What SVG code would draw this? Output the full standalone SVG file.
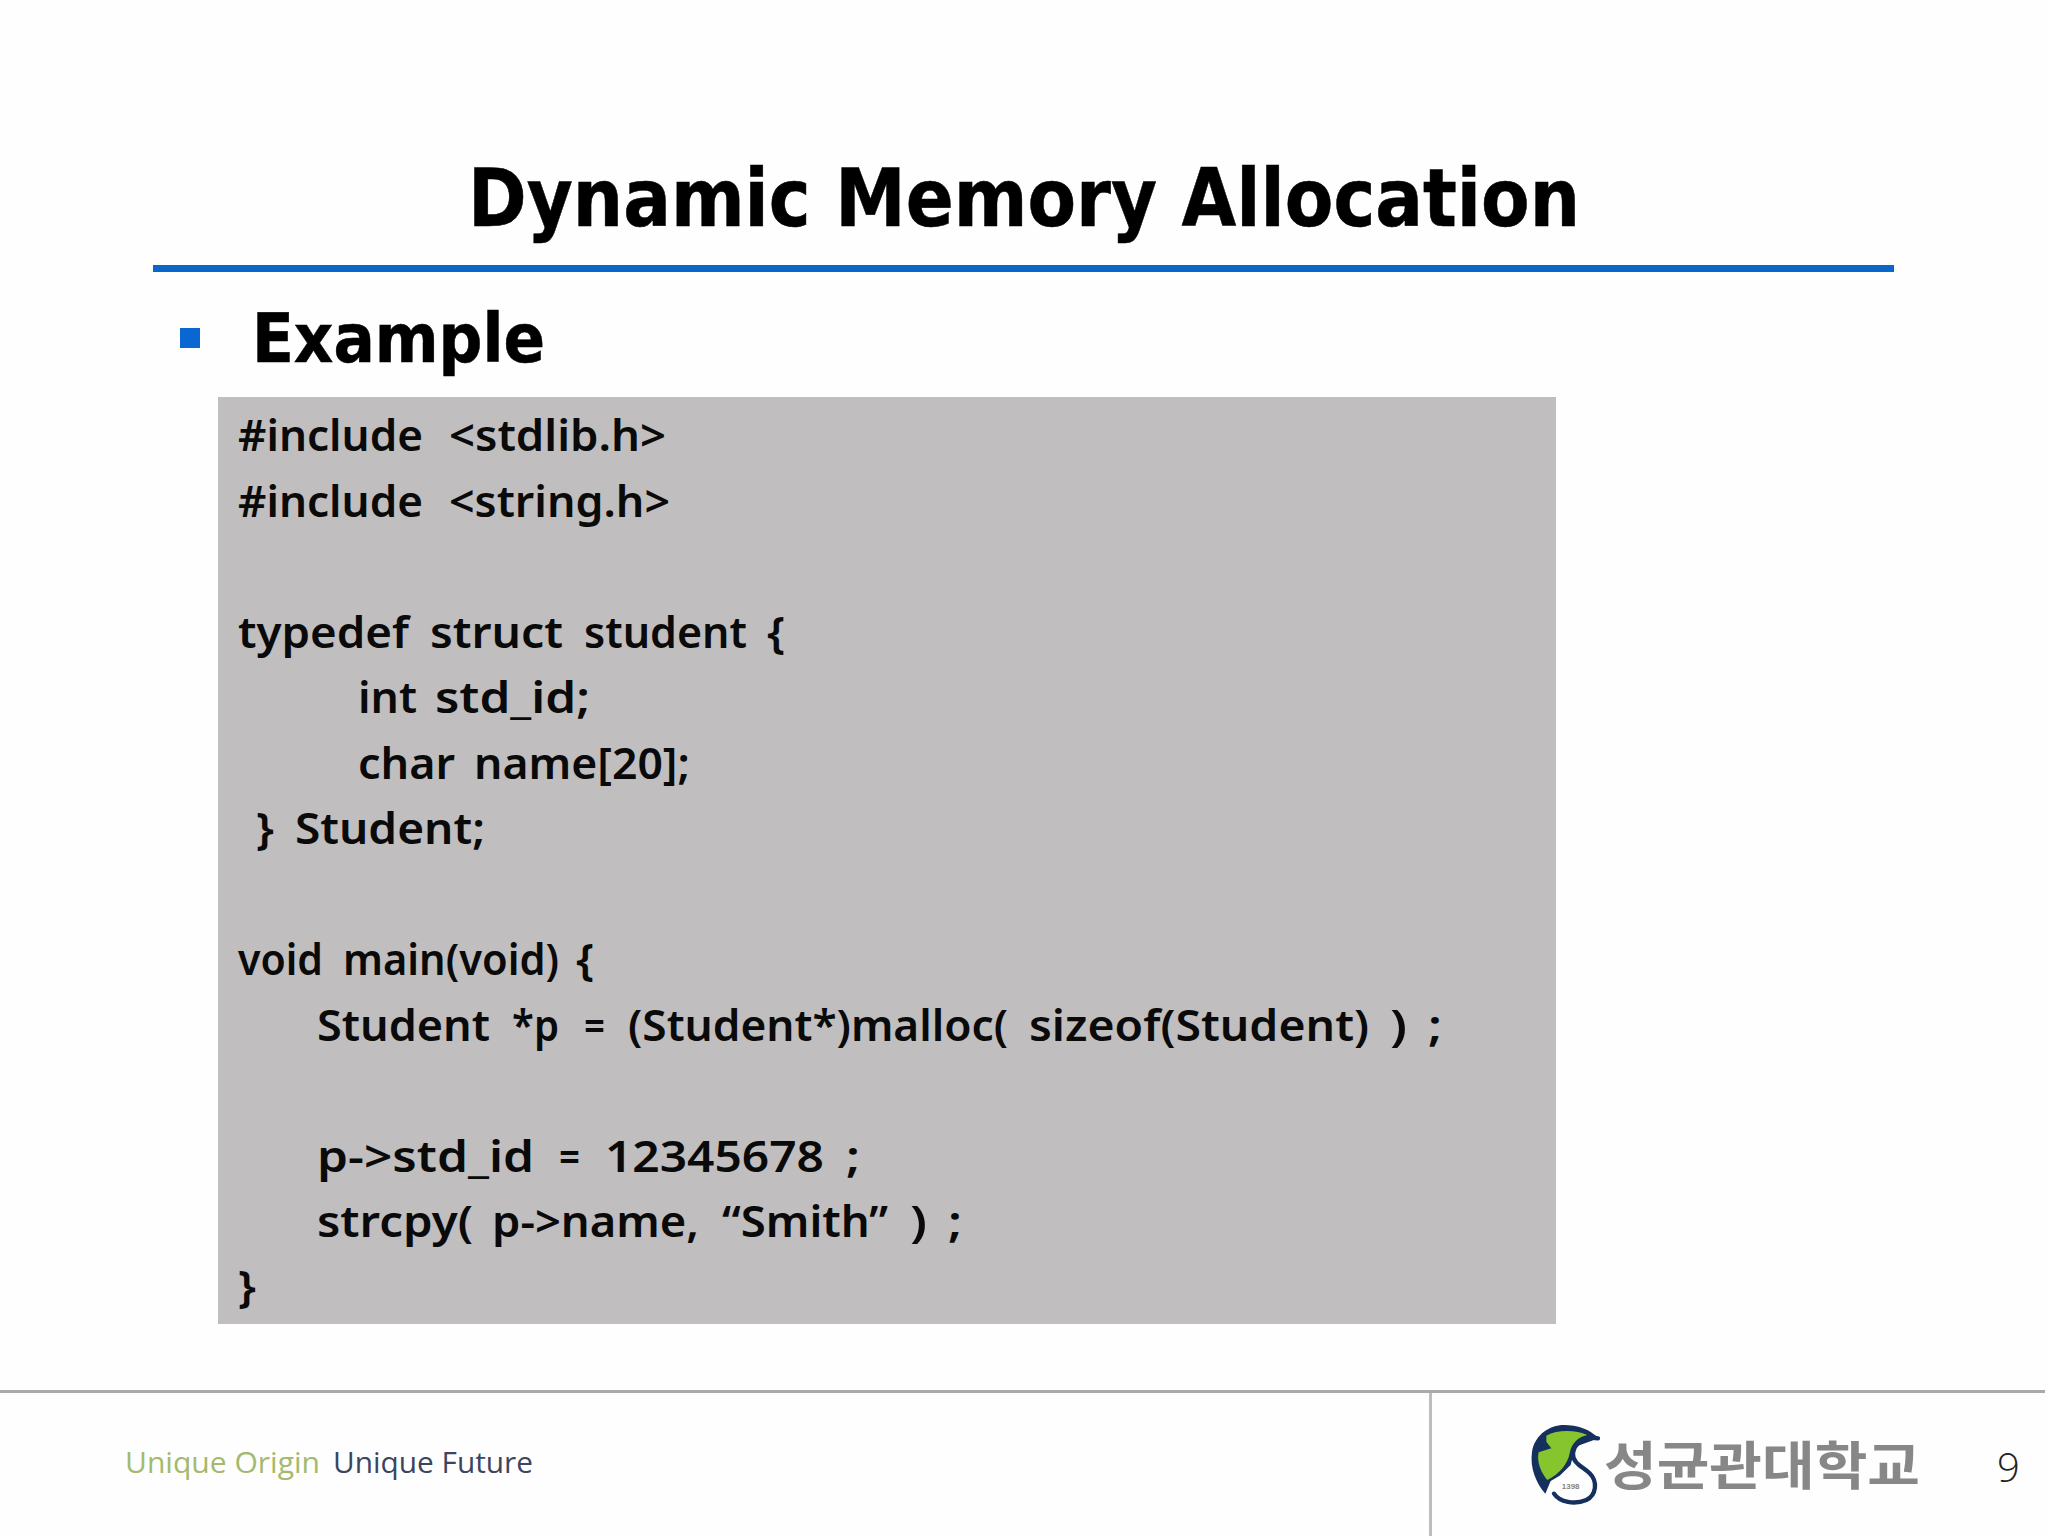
<svg xmlns="http://www.w3.org/2000/svg" width="2048" height="1536" viewBox="0 0 2048 1536">
<style>
.code{font-family:"Noto Sans","DejaVu Sans",sans-serif;font-weight:600;font-size:44px;fill:#0a0a0a}
.head{font-family:"DejaVu Sans Condensed","DejaVu Sans",sans-serif;font-weight:700;fill:#000;stroke:#000;stroke-width:.5}
.foot{font-family:"Open Sans","Noto Sans",sans-serif;font-size:30px}
</style>
<rect width="2048" height="1536" fill="#fefefe"/>
<g id="title">
<text class="head" x="468" y="226" font-size="80" textLength="1112" lengthAdjust="spacingAndGlyphs">Dynamic Memory Allocation</text>
<rect x="153" y="265" width="1741" height="7" fill="#0a66c8"/>
</g>
<g id="heading">
<rect x="180" y="328" width="20" height="20" fill="#0a66d0"/>
<text class="head" x="252" y="362" font-size="68" textLength="293" lengthAdjust="spacingAndGlyphs">Example</text>
</g>
<g id="code">
<rect x="218" y="397" width="1338" height="927" fill="#c0bebf"/>
<text class="code" y="451"><tspan x="238" textLength="185" lengthAdjust="spacingAndGlyphs">#include</tspan> <tspan x="449" textLength="217" lengthAdjust="spacingAndGlyphs">&lt;stdlib.h&gt;</tspan></text>
<text class="code" y="517"><tspan x="238" textLength="185" lengthAdjust="spacingAndGlyphs">#include</tspan> <tspan x="449" textLength="221" lengthAdjust="spacingAndGlyphs">&lt;string.h&gt;</tspan></text>
<text class="code" y="648"><tspan x="238" textLength="171" lengthAdjust="spacingAndGlyphs">typedef</tspan> <tspan x="430" textLength="133" lengthAdjust="spacingAndGlyphs">struct</tspan> <tspan x="584" textLength="163" lengthAdjust="spacingAndGlyphs">student</tspan> <tspan x="767" textLength="18" lengthAdjust="spacingAndGlyphs">{</tspan></text>
<text class="code" y="713"><tspan x="358" textLength="59" lengthAdjust="spacingAndGlyphs">int</tspan> <tspan x="435" textLength="155" lengthAdjust="spacingAndGlyphs">std_id;</tspan></text>
<text class="code" y="779"><tspan x="358" textLength="97" lengthAdjust="spacingAndGlyphs">char</tspan> <tspan x="474" textLength="216" lengthAdjust="spacingAndGlyphs">name[20];</tspan></text>
<text class="code" y="844"><tspan x="256" textLength="18" lengthAdjust="spacingAndGlyphs">}</tspan> <tspan x="295" textLength="190" lengthAdjust="spacingAndGlyphs">Student;</tspan></text>
<text class="code" y="975"><tspan x="238" textLength="85" lengthAdjust="spacingAndGlyphs">void</tspan> <tspan x="343" textLength="216" lengthAdjust="spacingAndGlyphs">main(void)</tspan> <tspan x="576" textLength="18" lengthAdjust="spacingAndGlyphs">{</tspan></text>
<text class="code" y="1041"><tspan x="317" textLength="173" lengthAdjust="spacingAndGlyphs">Student</tspan> <tspan x="512" textLength="47" lengthAdjust="spacingAndGlyphs">*p</tspan> <tspan x="584" textLength="21" lengthAdjust="spacingAndGlyphs">=</tspan> <tspan x="628" textLength="380" lengthAdjust="spacingAndGlyphs">(Student*)malloc(</tspan> <tspan x="1029" textLength="340" lengthAdjust="spacingAndGlyphs">sizeof(Student)</tspan> <tspan x="1390" textLength="17" lengthAdjust="spacingAndGlyphs">)</tspan> <tspan x="1428" textLength="14" lengthAdjust="spacingAndGlyphs">;</tspan></text>
<text class="code" y="1172"><tspan x="317" textLength="217" lengthAdjust="spacingAndGlyphs">p-&gt;std_id</tspan> <tspan x="559" textLength="21" lengthAdjust="spacingAndGlyphs">=</tspan> <tspan x="605" textLength="219" lengthAdjust="spacingAndGlyphs">12345678</tspan> <tspan x="846" textLength="14" lengthAdjust="spacingAndGlyphs">;</tspan></text>
<text class="code" y="1237"><tspan x="317" textLength="156" lengthAdjust="spacingAndGlyphs">strcpy(</tspan> <tspan x="492" textLength="207" lengthAdjust="spacingAndGlyphs">p-&gt;name,</tspan> <tspan x="722" textLength="166" lengthAdjust="spacingAndGlyphs">“Smith”</tspan> <tspan x="910" textLength="17" lengthAdjust="spacingAndGlyphs">)</tspan> <tspan x="948" textLength="14" lengthAdjust="spacingAndGlyphs">;</tspan></text>
<text class="code" x="238" y="1302" textLength="18" lengthAdjust="spacingAndGlyphs">}</text>
</g>
<g id="footer">
<rect x="0" y="1390" width="2045" height="3" fill="#a9a9a9"/>
<rect x="1429" y="1393" width="3" height="143" fill="#bdbdbd"/>
<text class="foot" x="125" y="1473" fill="#a3ba6c" textLength="195" lengthAdjust="spacingAndGlyphs">Unique Origin</text>
<text class="foot" x="333" y="1473" fill="#3b4560" textLength="200" lengthAdjust="spacingAndGlyphs">Unique Future</text>
</g>
<g id="logo">
<g transform="translate(1518 1415) scale(.3333)">
<path d="M242 70C215 40 170 28 130 30C85 35 50 65 42 110C35 160 55 205 82 236L98 198L125 182L158 150L172 95Z" fill="#15305f"/>
<path d="M85 62C120 42 175 45 208 60C180 66 160 85 155 115C150 145 125 178 88 195C70 175 55 140 62 112L100 100L85 80Z" fill="#86c52e"/>
<path d="M240 70C200 62 168 85 165 115C163 145 195 155 215 175C240 200 235 240 205 255C170 270 125 262 108 236" fill="none" stroke="#15305f" stroke-width="13" stroke-linecap="round"/>
<text x="158" y="222" font-family="Liberation Sans,sans-serif" font-size="24" font-weight="700" fill="#8a8378" text-anchor="middle">1398</text>
</g>
<text x="1604" y="1485" font-family="'Noto Sans CJK KR',sans-serif" font-weight="700" font-size="52" fill="#878787" textLength="316" lengthAdjust="spacingAndGlyphs">성균관대학교</text>
</g>
<g id="page">
<text x="1997" y="1482" font-family="'Open Sans','Liberation Sans',sans-serif" font-weight="300" font-size="40" fill="#222">9</text>
</g>
</svg>
